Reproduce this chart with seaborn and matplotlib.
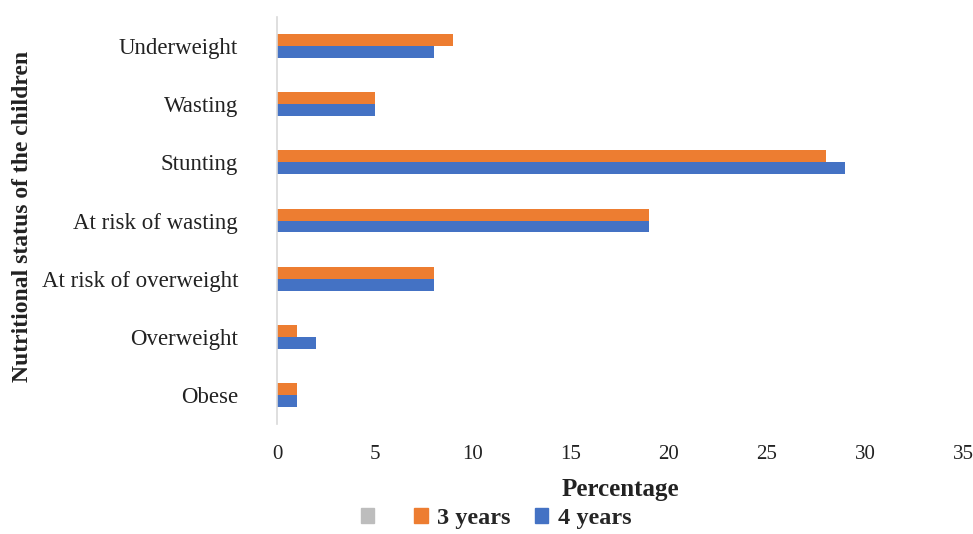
import matplotlib
matplotlib.use("Agg")
import matplotlib.pyplot as plt
from matplotlib.patches import Patch
import seaborn as sns
import pandas as pd

categories = ["Underweight", "Wasting", "Stunting", "At risk of wasting",
              "At risk of overweight", "Overweight", "Obese"]
years_3 = [9, 5, 28, 19, 8, 1, 1]
years_4 = [8, 5, 29, 19, 8, 2, 1]
series_names = ["3 years", "4 years"]
x_ticks = [0, 5, 10, 15, 20, 25, 30, 35]

df = pd.DataFrame({
    "status": categories * 2,
    "value": years_3 + years_4,
    "group": [series_names[0]] * len(categories) + [series_names[1]] * len(categories),
})

sns.set_theme(style="white")
plt.rcParams["font.family"] = ["Liberation Serif", "DejaVu Serif"]

colors = {"3 years": "#ED7D31", "4 years": "#4472C4"}

fig = plt.figure(figsize=(9.73, 5.34), dpi=100)
ax = fig.add_axes([0.2847, 0.206, 0.705, 0.762])

sns.barplot(data=df, y="status", x="value", hue="group", order=categories,
            hue_order=series_names, palette=colors, orient="h", width=0.41,
            saturation=1, linewidth=0, ax=ax, legend=False)

ax.set_xlim(0, 35)
ax.set_xticks(x_ticks)
ax.set_xticklabels([str(t) for t in x_ticks], fontsize=15, color="#222222")
ax.tick_params(axis="y", labelsize=16.5, colors="#222222", length=0, pad=28)
ax.tick_params(axis="x", length=0, pad=15)

for side in ["top", "right", "bottom"]:
    ax.spines[side].set_visible(False)
ax.spines["left"].set_color("#d9d9d9")
ax.spines["left"].set_linewidth(1.2)

ax.set_xlabel("Percentage", fontsize=18, fontweight="bold", color="#222222", labelpad=10)
ax.set_ylabel("")
fig.text(0.023, 0.595, "Nutritional status of the children", rotation=90,
         fontsize=17, fontweight="bold", color="#222222", ha="center", va="center")

handles = [Patch(color="#BDBDBD", label=" "),
           Patch(color=colors["3 years"], label="3 years"),
           Patch(color=colors["4 years"], label="4 years")]
fig.legend(handles=handles, loc="lower center", bbox_to_anchor=(0.51, -0.032), ncol=3,
           frameon=False, handlelength=0.55, handleheight=0.55, handletextpad=0.4,
           columnspacing=1.0, prop={"family": ["Liberation Serif"], "weight": "bold", "size": 17.5})

fig.savefig("out.png", dpi=100)
